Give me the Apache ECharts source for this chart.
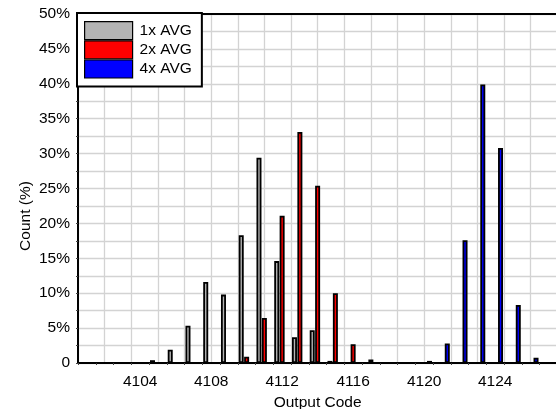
<!DOCTYPE html>
<html>
<head>
<meta charset="utf-8">
<script src="https://cdn.jsdelivr.net/npm/echarts@6/dist/echarts.min.js"></script>
<style>html,body{margin:0;padding:0;background:#fff}#c{width:556px;height:409px}</style>
</head>
<body>
<div id="c"></div>
<script>
const codes = [4101,4102,4103,4104,4105,4106,4107,4108,4109,4110,4111,4112,4113,4114,4115,4116,4117,4118,4119,4120,4121,4122,4123,4124,4125,4126,4127];
const avg1x = [0,0,0,0,0.4,1.9,5.35,11.6,9.8,18.3,29.4,14.6,3.7,4.7,0.3,0,0,0,0,0,0,0,0,0,0,0,0];
const avg2x = [0,0,0,0,0,0,0,0,0,0.9,6.45,21.1,33.1,25.4,10.0,2.7,0.5,0,0,0,0,0,0,0,0,0,0];
const avg4x = [0,0,0,0,0,0,0,0,0,0,0,0,0,0,0,0,0,0,0,0.3,2.8,17.6,39.9,30.8,8.3,0.76,0];
const seriesNames = ['1x AVG','2x AVG','4x AVG'];
const seriesColors = ['#b4b4b4','#ff0000','#0000ff'];
const yTicks = [0,5,10,15,20,25,30,35,40,45,50];
const xTickCodes = [4104,4108,4112,4116,4120,4124];

const FONT = '"Liberation Sans", Arial, sans-serif';
const chart = echarts.init(document.getElementById('c'), null, {renderer:'canvas'});
const allData = [avg1x, avg2x, avg4x];
chart.setOption({
  animation: false,
  textStyle: {fontFamily: FONT, color: '#000'},
  grid: {left: 78, right: -1.25, top: 14, bottom: 46, containLabel: false, outerBoundsMode: 'none'},
  legend: {
    orient: 'vertical', left: 77, top: 13, itemGap: 0, itemWidth: 48, itemHeight: 18,
    icon: 'rect',
    padding: [8, 10, 8, 7], borderColor: '#000', borderWidth: 2, backgroundColor: '#fff',
    textStyle: {fontFamily: FONT, fontSize: 15.5, color: '#000', padding: [0, 0, 0, 2]},
    itemStyle: {borderColor: '#000', borderWidth: 1.2},
    data: seriesNames, z: 10
  },
  xAxis: [{
    type: 'category', data: codes.map(String), position: 'bottom',
    axisLine: {show: true, lineStyle: {color: '#000', width: 2}},
    axisTick: {show: true, interval: 0, length: 2, lineStyle: {color: '#444'}},
    axisLabel: {interval: 0, margin: 11, fontSize: 15.5, color: '#000', fontFamily: FONT,
      formatter: v => xTickCodes.includes(+v) ? v : ''},
    splitLine: {show: false},
    name: 'Output Code', nameLocation: 'middle', nameGap: 27,
    nameTextStyle: {fontSize: 15.5, color: '#000', fontFamily: FONT}
  }, {
    type: 'value', position: 'top', min: 0, max: 27, interval: 1.5,
    axisLine: {show: true, lineStyle: {color: '#000', width: 2}},
    axisTick: {show: false}, axisLabel: {show: false},
    splitLine: {show: true, lineStyle: {color: '#d3d3d3', width: 1.3}}
  }],
  yAxis: {
    type: 'value', min: 0, max: 50, interval: 2.5,
    axisLine: {show: true, lineStyle: {color: '#000', width: 2}},
    axisTick: {show: true, length: 2, lineStyle: {color: '#444'}},
    axisLabel: {margin: 8, fontSize: 15.5, color: '#000', fontFamily: FONT,
      formatter: v => v === 0 ? '0' : (yTicks.includes(v) ? v + '%' : '')},
    splitLine: {show: true, lineStyle: {color: '#d3d3d3', width: 1.3}}
  },
  graphic: [{
    type: 'text', x: 26, y: 216, rotation: Math.PI / 2,
    style: {text: 'Count (%)', fontSize: 15.5, fontFamily: FONT, fill: '#000', align: 'center', verticalAlign: 'middle'}
  }],
  series: seriesNames.map((n, i) => ({
    name: n, type: 'bar', xAxisIndex: 0, data: allData[i],
    barWidth: 5, barGap: '8%',
    itemStyle: {color: seriesColors[i], borderColor: '#000', borderWidth: 1.8}
  }))
});
</script>
</body>
</html>
